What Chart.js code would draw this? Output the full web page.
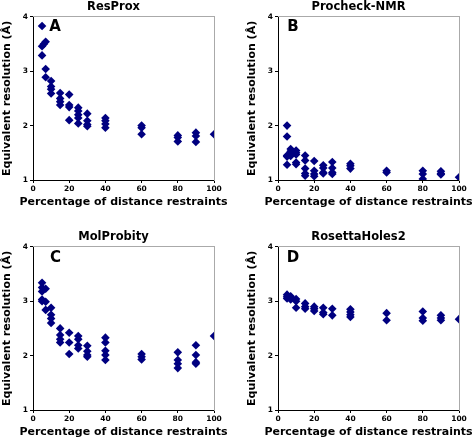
<!DOCTYPE html>
<html><head><meta charset="utf-8">
<script src="https://cdn.jsdelivr.net/npm/chart.js@4.4.1/dist/chart.umd.min.js"></script>
<style>
html,body{margin:0;padding:0;background:#fff;overflow:hidden;width:472px;height:440px;position:relative;}
canvas{position:absolute;}
</style></head><body>
<canvas id="cA" width="236" height="220" style="left:0px;top:0px"></canvas>
<canvas id="cB" width="236" height="220" style="left:245px;top:0px"></canvas>
<canvas id="cC" width="236" height="220" style="left:0px;top:230px"></canvas>
<canvas id="cD" width="236" height="220" style="left:245px;top:230px"></canvas>
<script>
const xTicks = [0, 20, 40, 60, 80, 100];
const yTicks = [1, 2, 3, 4];
const xTitle = 'Percentage of distance restraints';
const yTitle = 'Equivalent resolution (Å)';
const panelTitles = ['ResProx', 'Procheck-NMR', 'MolProbity', 'RosettaHoles2'];
const panelLetters = ['A', 'B', 'C', 'D'];

// Panel A: ResProx
const resproxPct = [5,5,5, 6, 7,7,7, 10,10,10,10, 15,15,15,15, 20,20,20,20, 25,25,25,25,25, 30,30,30,30, 40,40,40,40, 60,60,60, 80,80,80, 90,90,90, 100];
const resproxRes = [3.83,3.46,3.29, 3.50, 3.54,3.04,2.89, 2.82,2.72,2.67,2.59, 2.60,2.50,2.44,2.38, 2.57,2.38,2.34,2.10, 2.33,2.27,2.20,2.14,2.04, 2.22,2.09,2.02,1.99, 2.14,2.09,2.03,1.96, 2.00,1.96,1.84, 1.82,1.78,1.71, 1.87,1.81,1.70, 1.84];

// Panel B: Procheck-NMR
const procheckPct = [5,5,5,5,5, 7,7,7,7, 10,10,10,10,10, 15,15,15,15,15, 20,20,20,20, 25,25,25,25, 30,30,30,30, 40,40,40, 60,60, 80,80,80, 90,90,90, 100];
const procheckRes = [2.00,1.80,1.45,1.43,1.28, 1.57,1.53,1.48,1.44, 1.54,1.50,1.47,1.32,1.29, 1.45,1.36,1.21,1.12,1.08, 1.35,1.17,1.11,1.07, 1.27,1.22,1.14,1.12, 1.33,1.22,1.14,1.11, 1.30,1.26,1.21, 1.17,1.14, 1.17,1.11,1.02, 1.16,1.12,1.10, 1.05];

// Panel C: MolProbity
const molprobityPct = [5,5,5,5,5, 7,7,7, 10,10,10,10, 15,15,15,15, 20,20,20, 25,25,25,25, 30,30,30,30, 40,40,40,40,40, 60,60,60, 80,80,80,80, 90,90,90,90, 100];
const molprobityRes = [3.34,3.25,3.18,3.03,3.00, 3.23,2.99,2.84, 2.88,2.75,2.68,2.60, 2.50,2.38,2.30,2.24, 2.42,2.24,2.03, 2.36,2.30,2.19,2.13, 2.18,2.08,2.01,1.98, 2.33,2.24,2.09,2.01,1.92, 2.03,1.98,1.93, 2.06,1.92,1.85,1.77, 2.19,2.01,1.88,1.85, 2.36];

// Panel D: RosettaHoles2
const rosettaPct = [5,5,5, 7,7,7, 10,10,10, 15,15,15, 20,20,20, 25,25,25, 30,30, 40,40,40,40, 60,60, 80,80,80, 90,90,90, 100];
const rosettaRes = [3.12,3.08,3.05, 3.09,3.06,3.03, 3.04,3.00,2.88, 2.96,2.90,2.86, 2.90,2.86,2.82, 2.88,2.79,2.76, 2.86,2.74, 2.85,2.80,2.75,2.71, 2.78,2.65, 2.81,2.69,2.64, 2.74,2.69,2.65, 2.67];

Chart.defaults.font.family = "'DejaVu Sans', sans-serif";
Chart.defaults.font.weight = 'bold';
Chart.defaults.color = '#000';

const NAVY = '#000080';

// Panel letter + x-axis title (drawn without Chart.js's maxWidth squeeze)
const labelPlugin = {
  id: 'panelLabels',
  afterDraw(chart, args, opts) {
    const ctx = chart.ctx, ca = chart.chartArea, xs = chart.scales.x;
    ctx.save();
    ctx.fillStyle = '#000';
    ctx.textAlign = 'center';
    ctx.textBaseline = 'middle';
    ctx.font = 'bold 15px "DejaVu Sans", sans-serif';
    ctx.fillText(opts.letter, ca.left + opts.dx, ca.top + opts.dy);
    ctx.font = 'bold 11px "DejaVu Sans", sans-serif';
    ctx.fillText(opts.xTitle, (ca.left + ca.right) / 2, xs.bottom - 18);
    ctx.restore();
  }
};

function makeChart(id, idx, xs, ys, dx, dy) {
  const pts = xs.map((x, i) => ({x: x, y: ys[i]}));
  return new Chart(document.getElementById(id), {
    type: 'scatter',
    data: { datasets: [{
      data: pts,
      pointStyle: 'rectRot',
      pointRadius: 4.3,
      pointBorderWidth: 0,
      backgroundColor: NAVY,
      borderColor: NAVY
    }]},
    options: {
      responsive: false,
      animation: false,
      devicePixelRatio: 1,
      layout: { padding: { left: 0, right: 9, top: 0, bottom: 0 } },
      plugins: {
        legend: { display: false },
        tooltip: { enabled: false },
        title: {
          display: true, text: panelTitles[idx], color: '#000',
          font: { size: 11.5, weight: 'bold' },
          padding: { top: 0, bottom: 3 }
        },
        panelLabels: { letter: panelLetters[idx], dx: dx, dy: dy, xTitle: xTitle }
      },
      scales: {
        x: {
          type: 'linear', position: 'bottom', min: 0, max: 100,
          afterBuildTicks: s => { s.ticks = xTicks.map(v => ({value: v})); },
          afterFit: s => { s.height = 40; },
          ticks: { font: { size: 7.5, weight: 'bold' }, color: '#000', padding: 2, maxRotation: 0 },
          grid: { display: true, drawOnChartArea: false, drawTicks: true, tickLength: 3, color: '#000', lineWidth: 1 },
          border: { display: true, color: '#000', width: 1 },
          title: { display: false }
        },
        y: {
          type: 'linear', position: 'left', min: 1, max: 4,
          afterBuildTicks: s => { s.ticks = yTicks.map(v => ({value: v})); },
          afterFit: s => { s.width = 33; },
          ticks: { font: { size: 7.5, weight: 'bold' }, color: '#000', padding: 2 },
          grid: { display: true, drawOnChartArea: false, drawTicks: true, tickLength: 3, color: '#000', lineWidth: 1 },
          border: { display: true, color: '#000', width: 1 },
          title: { display: true, text: yTitle, color: '#000', font: { size: 11, weight: 'bold' }, padding: { top: 1, bottom: 0 } }
        },
        xTop: {
          type: 'linear', position: 'top', min: 0, max: 100,
          afterFit: s => { s.height = 0; },
          ticks: { display: false },
          grid: { display: false },
          border: { display: true, color: '#aaaaaa', width: 1 }
        },
        yRight: {
          type: 'linear', position: 'right', min: 1, max: 4,
          afterFit: s => { s.width = 13; },
          ticks: { display: false },
          grid: { display: false },
          border: { display: true, color: '#aaaaaa', width: 1 }
        }
      }
    },
    plugins: [labelPlugin]
  });
}

makeChart('cA', 0, resproxPct, resproxRes, 22, 10);
makeChart('cB', 1, procheckPct, procheckRes, 15, 10);
makeChart('cC', 2, molprobityPct, molprobityRes, 22.5, 11);
makeChart('cD', 3, rosettaPct, rosettaRes, 15, 11);
</script>
</body></html>
